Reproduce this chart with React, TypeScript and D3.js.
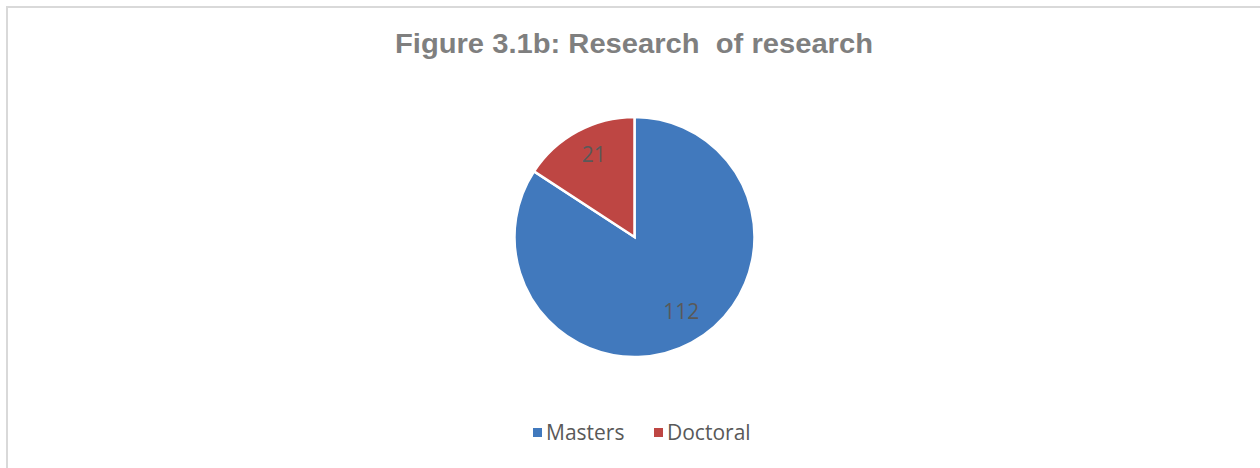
import React from "react";
import * as d3 from "d3";

const categories = ["Masters", "Doctoral"];
const values = [112, 21];
const colors = ["#4179BD", "#BE4643"];
const title = "Figure 3.1b: Research  of research";

export default function App() {
  const W = 1260, H = 468;
  const cx = 634.5, cy = 237, r = 120;
  const pie = d3.pie<number>().sort(null).value((d) => d);
  const arcs = pie(values);
  const arc = d3.arc<d3.PieArcDatum<number>>().innerRadius(0).outerRadius(r);
  const labelArc = d3.arc<d3.PieArcDatum<number>>().innerRadius(r * 0.75).outerRadius(r * 0.75);
  const legendX = [533, 654];
  return (
    <svg width={W} height={H} style={{ position: "absolute", left: 0, top: 0 }}>
      <rect x={0} y={0} width={W} height={H} fill="#fff" />
      <rect x={7} y={7} width={W + 20} height={H + 20} fill="#fff" stroke="#D9D9D9" strokeWidth={2} />
      <text x={634} y={53} textAnchor="middle" xmlSpace="preserve" style={{ whiteSpace: "pre" }}
        textLength={478} lengthAdjust="spacingAndGlyphs"
        fontFamily="Liberation Sans, Arial, sans-serif" fontWeight="bold" fontSize={27} fill="#7F7F7F">
        {title}
      </text>
      <g transform={`translate(${cx},${cy})`}>
        {arcs.map((a, i) => (
          <path key={i} d={arc(a) || ""} fill={colors[i]} stroke="#fff" strokeWidth={2.5} strokeLinejoin="miter" />
        ))}
        {arcs.map((a, i) => {
          const [x, y] = labelArc.centroid(a);
          return (
            <text key={i} x={x + (i === 0 ? 4 : 2)} y={y - (i === 0 ? 5 : 3)} dy="0.35em" textAnchor="middle" fontFamily="Open Sans, sans-serif" fontSize={21} fill="#595959">
              {values[i]}
            </text>
          );
        })}
      </g>
      {categories.map((c, i) => (
        <g key={c} transform={`translate(${legendX[i]},432.5)`}>
          <rect x={0} y={-4.5} width={9} height={9} fill={colors[i]} />
          <text x={13} y={0} dy="0.35em" fontFamily="Open Sans, sans-serif" fontSize={21} fill="#595959">
            {c}
          </text>
        </g>
      ))}
    </svg>
  );
}
